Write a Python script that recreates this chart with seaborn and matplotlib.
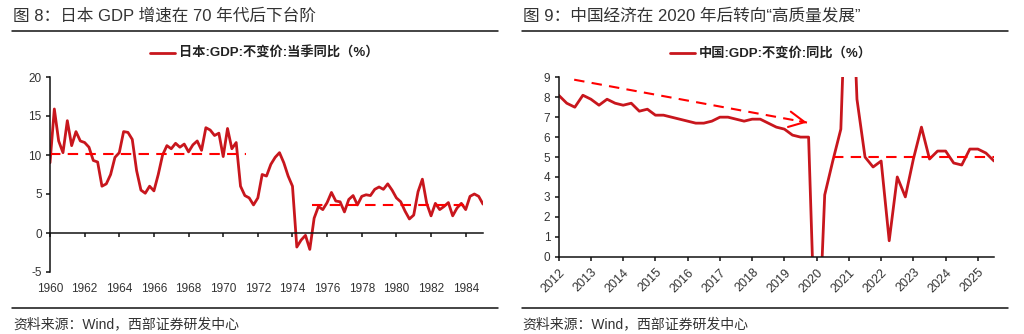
import numpy as np
import pandas as pd
import matplotlib
matplotlib.use("Agg")
import matplotlib.pyplot as plt
from matplotlib.lines import Line2D
import seaborn as sns

# ---------------- data ----------------
# Japan GDP (constant price) YoY, quarterly 1960Q1-1985Q1
jp_start_year = 1960
jp_values = [
    9.0, 15.9, 11.8, 10.3,      # 1960
    14.4, 11.2, 13.0, 11.8,     # 1961
    11.6, 11.0, 9.3, 9.1,       # 1962
    6.0, 6.3, 7.5, 9.7,         # 1963
    10.3, 13.0, 12.9, 12.0,     # 1964
    8.0, 5.5, 5.1, 6.0,         # 1965
    5.4, 7.5, 10.0, 11.2,       # 1966
    10.8, 11.5, 11.0, 11.4,     # 1967
    10.4, 11.3, 11.8, 10.6,     # 1968
    13.5, 13.2, 12.5, 12.8,     # 1969
    9.8, 13.4, 10.8, 11.6,      # 1970
    6.0, 4.8, 4.5, 3.6,         # 1971
    4.5, 7.5, 7.3, 8.8,         # 1972
    9.7, 10.3, 9.0, 7.3,        # 1973
    6.0, -1.8, -0.9, -0.3,      # 1974
    -2.1, 1.9, 3.4, 3.0,        # 1975
    3.9, 5.2, 4.1, 4.0,         # 1976
    2.7, 4.3, 4.8, 3.6,         # 1977
    4.7, 4.9, 4.8, 5.6,         # 1978
    5.9, 5.6, 6.3, 5.5,         # 1979
    4.5, 4.0, 2.8, 1.8,         # 1980
    2.3, 5.3, 6.9, 3.8,         # 1981
    2.2, 3.8, 3.0, 3.4,         # 1982
    3.9, 2.2, 3.2, 3.8,         # 1983
    3.0, 4.7, 5.0, 4.7,         # 1984
    3.7,                        # 1985
]
jp_avg_levels = [10.1, 3.6]
jp_avg_spans = [(1960.0, 1971.3), (1975.1, 1984.3)]
jp_xticks = [1960, 1962, 1964, 1966, 1968, 1970, 1972, 1974, 1976, 1978, 1980, 1982, 1984]
jp_yticks = [-5, 0, 5, 10, 15, 20]

# China GDP (constant price) YoY, quarterly 2012Q1-2025Q3
cn_start_year = 2012
cn_values = [
    8.1, 7.7, 7.5, 8.1,         # 2012
    7.9, 7.6, 7.9, 7.7,         # 2013
    7.6, 7.7, 7.3, 7.4,         # 2014
    7.1, 7.1, 7.0, 6.9,         # 2015
    6.8, 6.7, 6.7, 6.8,         # 2016
    7.0, 7.0, 6.9, 6.8,         # 2017
    6.9, 6.9, 6.7, 6.5,         # 2018
    6.4, 6.1, 6.0, 6.0,         # 2019
    -6.8, 3.1, 4.8, 6.4,        # 2020
    18.3, 7.9, 5.0, 4.5,        # 2021
    4.8, 0.8, 4.0, 3.0,         # 2022
    4.9, 6.5, 4.9, 5.3,         # 2023
    5.3, 4.7, 4.6, 5.4,         # 2024
    5.4, 5.2, 4.8,              # 2025
]
cn_avg_level = 5.0
cn_avg_span = (2020.5, 2025.5)
cn_trend_x = [2012.48, 2019.70]
cn_trend_y = [8.88, 6.73]
cn_xticks = list(range(2012, 2026))
cn_yticks = list(range(0, 10))

jp_label = "日本:GDP:不变价:当季同比（%）"
cn_label = "中国:GDP:不变价:同比（%）"
title_left = "图 8：日本 GDP 增速在 70 年代后下台阶"
title_right = "图 9：中国经济在 2020 年后转向“高质量发展”"
source_text = "资料来源：Wind，西部证券研发中心"

# ---------------- style ----------------
sns.set_theme(style="white")
plt.rcParams["font.family"] = ["Liberation Sans", "Noto Sans CJK SC", "DejaVu Sans"]
plt.rcParams["axes.unicode_minus"] = False

LINE_COLOR = "#C8161D"
DASH_COLOR = "#FF0000"
TEXT_COLOR = "#333333"
DASH = (0, (5, 3.5))

W, H = 1024, 334
fig = plt.figure(figsize=(W / 100, H / 100), dpi=100)


def fx(px):
    return px / W


def fy(py):
    return 1 - py / H


jp_df = pd.DataFrame({
    "t": jp_start_year + np.arange(len(jp_values)) / 4.0,
    "v": jp_values,
})
cn_df = pd.DataFrame({
    "t": cn_start_year + np.arange(len(cn_values)) / 4.0,
    "v": cn_values,
})

# ---------------- left chart ----------------
axL = fig.add_axes([fx(50), fy(272), fx(483) - fx(50), fy(77) - fy(272)])
sns.lineplot(data=jp_df, x="t", y="v", ax=axL, color=LINE_COLOR, lw=2.0, legend=False)
for lvl, (a, b) in zip(jp_avg_levels, jp_avg_spans):
    axL.hlines(lvl, a, b, colors=DASH_COLOR, linestyles=DASH, lw=1.5)
axL.set_xlim(1960, 1985)
axL.set_ylim(-5, 20)
axL.set_yticks(jp_yticks)
axL.set_xticks(jp_xticks)
axL.set_xlabel("")
axL.set_ylabel("")
for s in ["top", "right"]:
    axL.spines[s].set_visible(False)
axL.spines["bottom"].set_position(("data", 0))
for s in ["left", "bottom"]:
    axL.spines[s].set_color("#111111")
    axL.spines[s].set_linewidth(1.1)
axL.tick_params(axis="x", which="both", direction="out", length=3, width=1.1,
                color="#111111", labelbottom=False, bottom=True)
axL.tick_params(axis="y", direction="out", length=3, width=1.1, color="#111111",
                labelsize=8.5, labelcolor=TEXT_COLOR, pad=3, left=True)
secL = axL.secondary_xaxis("bottom")
secL.set_xticks(jp_xticks)
secL.set_xticklabels([str(t) for t in jp_xticks])
secL.spines["bottom"].set_visible(False)
secL.tick_params(axis="x", length=0, labelsize=8.5, labelcolor=TEXT_COLOR, pad=8)

# ---------------- right chart ----------------
axR = fig.add_axes([fx(558.7), fy(256.7), fx(994) - fx(558.7), fy(77.3) - fy(256.7)])
sns.lineplot(data=cn_df, x="t", y="v", ax=axR, color=LINE_COLOR, lw=2.0, legend=False)
axR.hlines(cn_avg_level, cn_avg_span[0], cn_avg_span[1], colors=DASH_COLOR,
           linestyles=DASH, lw=1.5)
# dashed trend shaft + solid open arrow head
axR.plot(cn_trend_x, cn_trend_y, color=DASH_COLOR, lw=1.5, linestyle=DASH)
head_frac = 0.97
axR.annotate("", xy=(cn_trend_x[1], cn_trend_y[1]),
             xytext=(cn_trend_x[0] + head_frac * (cn_trend_x[1] - cn_trend_x[0]),
                     cn_trend_y[0] + head_frac * (cn_trend_y[1] - cn_trend_y[0])),
             arrowprops=dict(arrowstyle="->,head_length=0.8,head_width=0.4",
                             color=DASH_COLOR, lw=1.5, shrinkA=0, shrinkB=0,
                             mutation_scale=14))
axR.set_xlim(2012, cn_df["t"].iloc[-1])
axR.set_ylim(0, 9)
axR.set_xticks(cn_xticks)
axR.set_xticklabels([str(t) for t in cn_xticks], rotation=45, ha="right",
                    rotation_mode="anchor")
axR.set_yticks(cn_yticks)
axR.set_xlabel("")
axR.set_ylabel("")
for s in ["top", "right"]:
    axR.spines[s].set_visible(False)
for s in ["left", "bottom"]:
    axR.spines[s].set_color("#111111")
    axR.spines[s].set_linewidth(1.1)
axR.tick_params(axis="x", direction="out", length=3, width=1.1, color="#111111",
                labelsize=9, labelcolor=TEXT_COLOR, pad=4, bottom=True)
axR.tick_params(axis="y", direction="out", length=3, width=1.1, color="#111111",
                labelsize=8.5, labelcolor=TEXT_COLOR, pad=3, left=True)

# ---------------- legends ----------------
def legend_entry(x0, x1, y, label):
    fig.add_artist(Line2D([fx(x0), fx(x1)], [fy(y), fy(y)], color=LINE_COLOR, lw=2.0,
                          transform=fig.transFigure))
    fig.text(fx(x1 + 4), fy(y), label, ha="left", va="center", fontsize=9.5,
             fontweight="bold", color="#222222")


legend_entry(150, 175, 53, jp_label)
legend_entry(670, 695, 53, cn_label)

# ---------------- titles, rules, sources ----------------
fig.text(fx(13), fy(16), title_left, ha="left", va="center", fontsize=12, color=TEXT_COLOR)
fig.text(fx(523), fy(16), title_right, ha="left", va="center", fontsize=12, color=TEXT_COLOR)
for (a, b) in [(12, 498), (522, 1008)]:
    for yy in (30.5, 308):
        fig.add_artist(Line2D([fx(a), fx(b)], [fy(yy), fy(yy)], color="#111111", lw=1.1,
                              transform=fig.transFigure))
fig.text(fx(13), fy(324), source_text, ha="left", va="center", fontsize=10, color=TEXT_COLOR)
fig.text(fx(522), fy(324), source_text, ha="left", va="center", fontsize=10, color=TEXT_COLOR)

fig.savefig("out.png", dpi=100)
